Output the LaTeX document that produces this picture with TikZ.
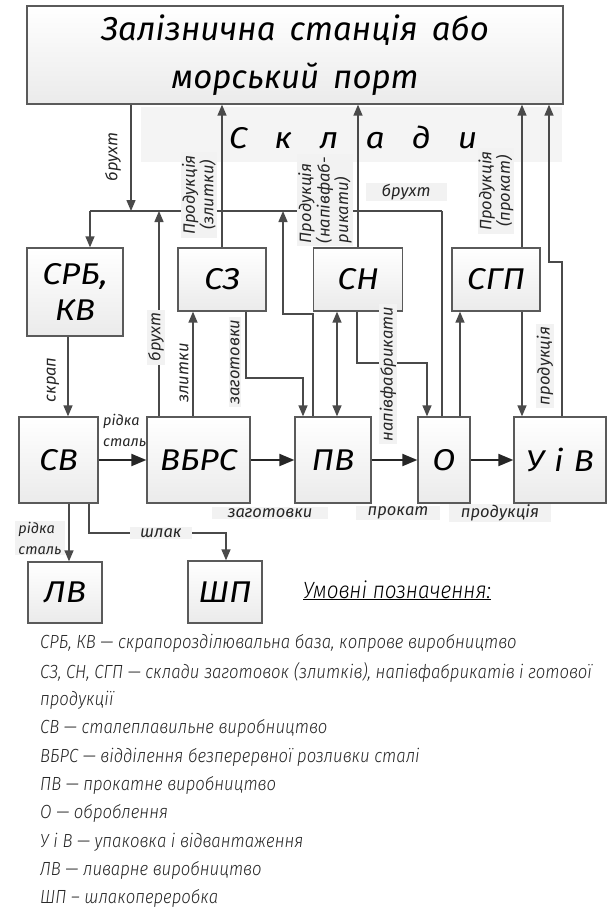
\documentclass[tikz,border=0pt]{standalone}
\usepackage{fontspec}
\usetikzlibrary{arrows.meta,calc}
\IfFontExistsTF{Fira Sans Light Italic}{%
  \newfontfamily\gostL{Fira Sans Light Italic}[FakeStretch=0.88]%
}{%
  \newfontfamily\gostL{Fira Sans Italic}[FakeStretch=0.88]%
}
\newfontfamily\gostT{Fira Sans Italic}
\newfontfamily\gostB{Fira Sans Italic}[FakeStretch=1.12]
\definecolor{ln}{HTML}{4A4A4A}
\definecolor{bd}{HTML}{5A5A5A}
\definecolor{labbg}{HTML}{F2F2F2}
\begin{document}
\begin{tikzpicture}[x=1pt,y=-1pt,
  box/.style={draw=bd, line width=1.3pt, top color=white, bottom color=gray!16,
    inner sep=0pt, align=center, text=black, font=\gostB\fontsize{30}{36}\selectfont},
  arr/.style={draw=ln, line width=1.4pt, -{Triangle[length=11pt,width=9pt]}},
  darr/.style={draw=ln, line width=1.4pt, {Triangle[length=11pt,width=9pt]}-{Triangle[length=11pt,width=9pt]}},
  plain/.style={draw=ln, line width=1.4pt},
  rowarr/.style={draw=black!85, line width=2pt, -{Triangle[length=15pt,width=12pt]}},
  lab/.style={font=\gostT\fontsize{16.5}{18.5}\selectfont, text=black!85, fill=labbg, inner xsep=3pt, inner ysep=1pt, align=center},
  leg/.style={font=\gostL\fontsize{19}{22}\selectfont, text=black!85, anchor=base west, inner sep=0pt}
]
\useasboundingbox (0,0) rectangle (613,911);
\fill[white] (0,0) rectangle (613,911);

% band "Склади"
\fill[gray!9] (141,107) rectangle (562,162);

% boxes
\node[box, minimum width=536pt, minimum height=98pt, font=\gostT\fontsize{33}{48}\selectfont] (top) at (295,55) {Залізнична\hspace{14pt}станція\hspace{14pt}або\\морський\hspace{14pt}порт};
\node[box, minimum width=96pt, minimum height=88pt] (srb) at (75,292) {СРБ,\\КВ};
\node[box, minimum width=88pt, minimum height=63pt] (sz) at (222,279.5) {СЗ};
\node[box, minimum width=89pt, minimum height=63pt] (sn) at (358,279.5) {СН};
\node[box, minimum width=88pt, minimum height=63pt] (sgp) at (496,279.5) {СГП};
\node[box, minimum width=79pt, minimum height=86pt] (sv) at (58.5,460) {СВ};
\node[box, minimum width=103pt, minimum height=86pt] (vbrs) at (198.5,460) {ВБРС};
\node[box, minimum width=76pt, minimum height=86pt] (pv) at (333,460) {ПВ};
\node[box, minimum width=52pt, minimum height=86pt] (o) at (444,460) {О};
\node[box, minimum width=92pt, minimum height=86pt] (uv) at (560,460) {У\hspace{10pt}і\hspace{10pt}В};
\node[box, minimum width=74pt, minimum height=61pt] (lv) at (65,592.5) {ЛВ};
\node[box, minimum width=74pt, minimum height=62pt] (shp) at (225,592) {ШП};

% coordinates
\coordinate (hl) at (90,211);
\coordinate (hr) at (442,211);
\coordinate (jb) at (131,211);
\coordinate (j1) at (159,211);
\coordinate (j2) at (283,211);
\coordinate (c1) at (313,314);
\coordinate (c2) at (283,314);
\coordinate (xa) at (522,0);
\coordinate (u1) at (562,262);
\coordinate (u2) at (549,262);
\coordinate (xs) at (68,0);
\coordinate (xz) at (193,0);
\coordinate (g1) at (246,378);
\coordinate (g2) at (303,378);
\coordinate (xd) at (337,0);
\coordinate (n1) at (357,363);
\coordinate (n2) at (427,363);
\coordinate (xg) at (460,0);
\coordinate (xl) at (69,0);
\coordinate (s1) at (89,533);
\coordinate (s2) at (226,533);

% top connectors
\draw[plain] (hl) -- (hr);
\draw[arr] (top.south -| jb) -- (jb);
\draw[arr] (hl) -- (srb.north -| hl);
\draw[arr] (vbrs.north -| j1) -- (j1);
\draw[arr] (pv.north -| c1) -- (c1) -- (c2) -- (j2);
\draw[plain] (o.north -| hr) -- (hr);
\draw[arr] (sz.north) -- (top.south -| sz.north);
\draw[arr] (sn.north) -- (top.south -| sn.north);
\draw[arr] (sgp.north -| xa) -- (top.south -| xa);
\draw[arr] (uv.north -| u1) -- (u1) -- (u2) -- (top.south -| u2);

% middle connectors
\draw[arr] (srb.south -| xs) -- (sv.north -| xs);
\draw[arr] (vbrs.north -| xz) -- (sz.south -| xz);
\draw[arr] (sz.south -| g1) -- (g1) -- (g2) -- (pv.north -| g2);
\draw[darr] (sn.south -| xd) -- (pv.north -| xd);
\draw[arr] (sn.south -| n1) -- (n1) -- (n2) -- (o.north -| n2);
\draw[arr] (o.north -| xg) -- (sgp.south -| xg);
\draw[arr] (sgp.south -| xa) -- (uv.north -| xa);

% row
\draw[rowarr] (sv.east) -- (vbrs.west);
\draw[rowarr] (vbrs.east) -- (pv.west);
\draw[rowarr] (pv.east) -- (o.west);
\draw[rowarr] (o.east) -- (uv.west);

% bottom
\draw[arr] (sv.south -| s1) -- (s1) -- (s2) -- (shp.north -| s2);

% band text
\node[font=\gostB\fontsize{30}{36}\selectfont, inner sep=0pt] (skl) at (353,137) {С\hspace{27pt}к\hspace{27pt}л\hspace{27pt}а\hspace{27pt}д\hspace{27pt}и};

% labels
\node[lab, rotate=90, fill=none] (l1) at (113,157) {брухт};
\node[lab, rotate=90] (l2) at (199,195) {Продукція\\(злитки)};
\node[lab, rotate=90, align=left] (l3) at (325,200) {Продукція\\(напівфаб-\\рикати)};
\node[lab, inner xsep=16pt] (l4) at (406,192) {брухт};
\node[lab, rotate=90] (l5) at (496,191) {Продукція\\(прокат)};
\node[lab, rotate=90, fill=none] (l6) at (53,380) {скрап};
\node[lab, rotate=90] (l7) at (156,337) {брухт};
\node[lab, rotate=90, fill=none] (l8) at (184,373) {злитки};
\node[lab, rotate=90] (l9) at (235,362) {заготовки};
\node[lab, rotate=90] (l10) at (388,374) {напівфабрикати};
\node[lab, rotate=90] (l11) at (545,366) {продукція};
\node[lab, fill=none, align=left, anchor=north west, font=\gostT\fontsize{14.5}{21}\selectfont] (l12) at (100,413) {рідка\\сталь};
\node[lab, inner xsep=16pt] (l13) at (270,513) {заготовки};
\node[lab, inner xsep=12pt] (l14) at (398,513) {прокат};
\node[lab, inner xsep=12pt] (l15) at (500,513) {продукція};
\node[lab, align=left, font=\gostT\fontsize{14.5}{21}\selectfont] (l16) at (40,538) {рідка\\сталь};
\node[lab, inner xsep=10pt] (l17) at (161,533) {шлак};
\draw[arr] (sv.south -| xl) -- (lv.north -| xl);

% legend
\node[font=\gostL\fontsize{23.5}{28}\selectfont, inner sep=0pt, anchor=base west] (leg0) at (303,598) {\underline{Умовні позначення:}};
\node[leg] (leg1) at (40,648) {СРБ, КВ — скрапорозділювальна база, копрове виробництво};
\node[leg] (leg2) at (40,678) {СЗ, СН, СГП — склади заготовок (злитків), напівфабрикатів і готової};
\node[leg] (leg3) at (40,705) {продукції};
\node[leg] (leg4) at (40,733) {СВ — сталеплавильне виробництво};
\node[leg] (leg5) at (40,762) {ВБРС — відділення безперервної розливки сталі};
\node[leg] (leg6) at (40,790) {ПВ — прокатне виробництво};
\node[leg] (leg7) at (40,818) {О — оброблення};
\node[leg] (leg8) at (40,847) {У і В — упаковка і відвантаження};
\node[leg] (leg9) at (40,875) {ЛВ — ливарне виробництво};
\node[leg] (leg10) at (40,903) {ШП – шлакопереробка};
\end{tikzpicture}
\end{document}
